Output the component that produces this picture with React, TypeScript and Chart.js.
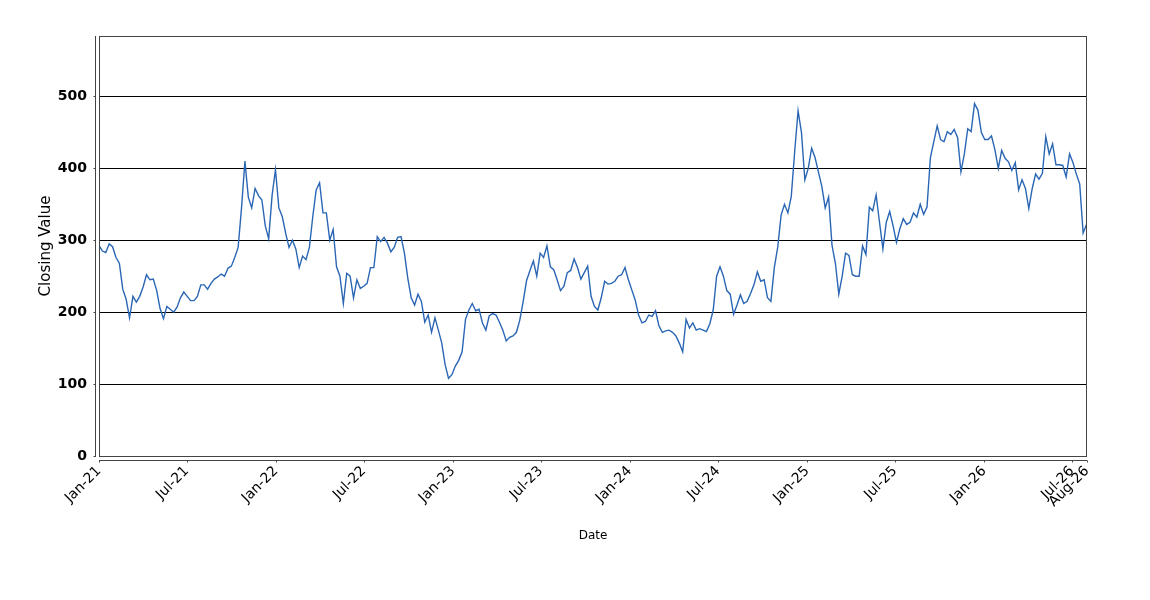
import React, { useEffect, useRef } from "react";
import { Chart, registerables } from "chart.js";

Chart.register(...registerables);

// Series start date; one closing value per week from here on
const seriesStart = "2021-01-01";
const daysPerStep = 7;

// Weekly closing values
const closingValues: number[] = [
  293, 285, 283, 295, 291, 276, 268, 232, 218, 192,
  222, 214, 222, 235, 252, 245, 246, 230, 205, 191,
  208, 204, 200, 207, 220, 228, 222, 216, 216, 222,
  238, 238, 232, 240, 246, 249, 253, 250, 261, 264,
  276, 290, 345, 410, 360, 345, 372, 362, 356, 320,
  302, 362, 398, 345, 333, 310, 290, 300, 288, 262,
  278, 273, 290, 333, 370, 380, 338, 338, 300, 315,
  263, 250, 212, 254, 250, 220, 245, 233, 236, 240,
  262, 262, 305, 298, 304, 296, 284, 290, 304, 305,
  282, 247, 220, 210, 225, 215, 186, 196, 172, 192,
  175, 157, 127, 108, 113, 125, 133, 145, 190, 203,
  212, 202, 204, 185, 175, 195, 198, 196, 186, 175,
  160, 165, 167, 172, 189, 215, 244, 258, 271, 250,
  282, 276, 292, 263, 259, 245, 230, 236, 255, 258,
  274, 262, 246, 255, 264, 222, 208, 203, 220, 243,
  239, 240, 243, 250, 252, 262, 245, 231, 217, 196,
  185, 187, 196, 194, 202, 181, 172, 174, 175, 172,
  167, 157, 145, 190, 178, 185, 175, 177, 175, 173,
  184, 203, 250, 263, 250, 230, 225, 197, 210, 224,
  212, 215, 226, 238, 256, 243, 245, 220, 215, 262,
  290, 335, 350, 338, 361, 423, 480, 450, 384, 400,
  428, 415, 395, 375, 345, 360, 293, 268, 225, 250,
  282, 279, 252, 250, 250, 292, 280, 346, 341, 363,
  325, 288, 325, 340, 320, 297, 316, 330, 322, 325,
  338, 332, 350, 336, 346, 415, 437, 459, 440, 437,
  451, 447, 454, 443, 395, 420, 455, 451, 490, 481,
  450, 440, 440, 445, 426, 400, 425, 414, 409, 397,
  408, 370, 384, 372, 344, 372, 392, 385, 393, 444,
  420, 434, 405, 405, 404, 388, 420, 408, 392, 378,
  310, 322,
];

// Axis range end date and tick marks
const axisEndDate = "2026-08-01";
const tickDates = [
  "2021-01-01", "2021-07-01", "2022-01-01", "2022-07-01", "2023-01-01",
  "2023-07-01", "2024-01-01", "2024-07-01", "2025-01-01", "2025-07-01",
  "2026-01-01", "2026-07-01", "2026-08-01",
];
const tickLabels = [
  "Jan-21", "Jul-21", "Jan-22", "Jul-22", "Jan-23",
  "Jul-23", "Jan-24", "Jul-24", "Jan-25", "Jul-25",
  "Jan-26", "Jul-26", "Aug-26",
];
const yTicks = [0, 100, 200, 300, 400, 500];
const yMax = 584;

const DAY = 86400000;
const dayOf = (iso: string) =>
  Math.round((Date.parse(iso + "T00:00:00Z") - Date.parse(seriesStart + "T00:00:00Z")) / DAY);

const framePlugin = {
  id: "jfreeFrame",
  afterDraw(chart: any) {
    const { ctx, chartArea, scales } = chart;
    const { left, right, top, bottom } = chartArea;
    ctx.save();
    ctx.strokeStyle = "#444444";
    ctx.lineWidth = 1;
    // plot border
    ctx.strokeRect(Math.round(left) + 0.5, Math.round(top) + 0.5, Math.round(right - left) - 1, Math.round(bottom - top));
    // offset y axis line
    const ax = Math.round(left) - 3.5;
    ctx.beginPath();
    ctx.moveTo(ax, top);
    ctx.lineTo(ax, bottom + 1);
    scales.y.ticks.forEach((t: any) => {
      const py = Math.round(scales.y.getPixelForValue(t.value)) + 0.5;
      ctx.moveTo(ax - 2, py);
      ctx.lineTo(ax, py);
    });
    // offset x axis line
    const ay = Math.round(bottom) + 4.5;
    ctx.moveTo(left, ay);
    ctx.lineTo(right, ay);
    scales.x.ticks.forEach((t: any) => {
      const px = Math.round(scales.x.getPixelForValue(t.value)) + 0.5;
      ctx.moveTo(px, ay);
      ctx.lineTo(px, ay + 2);
    });
    ctx.stroke();
    ctx.restore();
  },
};

export default function App() {
  const canvasRef = useRef<HTMLCanvasElement | null>(null);

  useEffect(() => {
    document.body.style.margin = "0";
    const canvas = canvasRef.current;
    if (!canvas) return;
    const points = closingValues.map((v, i) => ({ x: i * daysPerStep, y: v }));
    const tickDays = tickDates.map(dayOf);

    const chart = new Chart(canvas, {
      type: "line",
      data: {
        datasets: [
          {
            label: "Closing Value",
            data: points,
            borderColor: "#2a66b4",
            borderWidth: 1.4,
            pointRadius: 0,
            tension: 0,
            fill: false,
          },
        ],
      },
      plugins: [framePlugin],
      options: {
        animation: false,
        responsive: true,
        maintainAspectRatio: false,
        layout: { padding: { left: 0, top: 36, right: 63, bottom: 0 } },
        plugins: {
          legend: { display: false },
          tooltip: { enabled: false },
        },
        scales: {
          x: {
            type: "linear",
            min: 0,
            max: dayOf(axisEndDate),
            afterBuildTicks: (scale: any) => {
              scale.ticks = tickDays.map((v) => ({ value: v }));
            },
            afterFit: (scale: any) => {
              scale.height = 144;
            },
            ticks: {
              autoSkip: false,
              minRotation: 45,
              maxRotation: 45,
              padding: 7,
              color: "#000000",
              font: { family: "DejaVu Sans", size: 14 },
              callback: (_v: any, i: number) => tickLabels[i],
            },
            grid: { drawOnChartArea: false, drawTicks: false },
            border: { display: false },
            title: {
              display: true,
              text: "Date",
              color: "#000000",
              font: { family: "DejaVu Sans", size: 12 },
              padding: { top: 0, bottom: 57 },
            },
          },
          y: {
            type: "linear",
            min: 0,
            max: yMax,
            afterBuildTicks: (scale: any) => {
              scale.ticks = yTicks.map((v) => ({ value: v }));
            },
            afterFit: (scale: any) => {
              scale.width = 99;
            },
            ticks: {
              padding: 12,
              color: "#000000",
              font: { family: "DejaVu Sans", size: 14, weight: "bold" },
            },
            grid: {
              drawTicks: false,
              lineWidth: 1,
              color: (c: any) => (c.tick && c.tick.value === 0 ? "rgba(0,0,0,0)" : "#000000"),
            },
            border: { display: false },
            title: {
              display: true,
              text: "Closing Value",
              color: "#000000",
              font: { family: "DejaVu Sans", size: 15 },
              padding: { top: 37, bottom: 0 },
            },
          },
        },
      },
    });
    return () => chart.destroy();
  }, []);

  return (
    <div style={{ position: "relative", width: 1150, height: 600 }}>
      <canvas ref={canvasRef} />
    </div>
  );
}
